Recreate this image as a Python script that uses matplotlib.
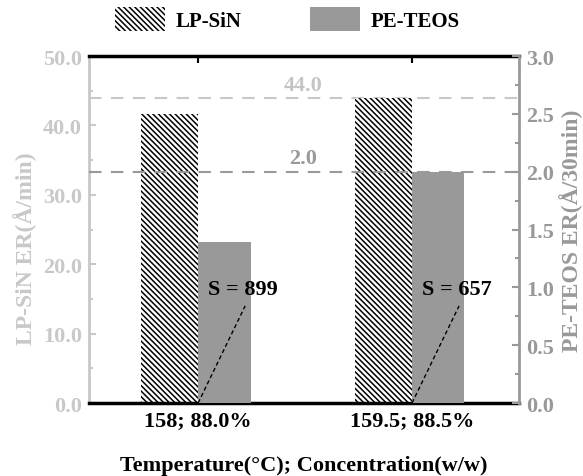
import matplotlib
matplotlib.use("Agg")
import matplotlib.pyplot as plt
from matplotlib.patches import Patch
import numpy as np

# data
categories = ["158; 88.0%", "159.5; 88.5%"]
lp_sin_er = [41.6, 44.0]        # Å/min, left axis
pe_teos_er = [1.39, 2.0]        # Å/30min, right axis
selectivity = [899, 657]
lp_ref = 44.0
pe_ref = 2.0

LIGHT = "#c8c8c8"
MID = "#999999"
HATCH = "\\\\\\\\\\\\"

plt.rcParams["font.family"] = "serif"
plt.rcParams["font.serif"] = ["Liberation Serif", "DejaVu Serif"]
plt.rcParams["font.weight"] = "bold"
plt.rcParams["hatch.linewidth"] = 1.1

fig = plt.figure(figsize=(5.83, 4.77), dpi=100)
ax = fig.add_axes([0.1527, 0.153, 0.7375, 0.7275])
ax2 = ax.twinx()

x = np.arange(len(categories))
w_lp, w_pe = 0.265, 0.245

ax.bar(x, lp_sin_er, width=-w_lp, align="edge", color="white",
       edgecolor="black", hatch=HATCH, linewidth=0, zorder=2)
ax2.bar(x, pe_teos_er, width=w_pe, align="edge", color=MID,
        linewidth=0, zorder=2)

# reference levels
ax.axhline(lp_ref, color=LIGHT, lw=1.5, dashes=(6, 4.5), zorder=1)
ax.text(0.49, lp_ref + 0.4, f"{lp_ref:.1f}", color="#c4c4c4", fontsize=16,
        ha="center", va="bottom", fontweight="bold")
ax2.axhline(pe_ref, color=MID, lw=1.5, dashes=(6, 4.5), zorder=1)
ax2.text(0.49, pe_ref + 0.03, f"{pe_ref:.1f}", color=MID, fontsize=16,
         ha="center", va="bottom", fontweight="bold")

# selectivity call-outs (drawn on the right axis so they sit above its bars)
for i, s in enumerate(selectivity):
    ax2.plot([x[i], x[i] + 0.22], [0, 0.84], color="black", lw=1,
             ls=(0, (3, 2)), zorder=3)
    ax2.text(x[i] + 0.21, 0.985, f"S = {s}", fontsize=16, fontweight="bold",
             ha="center", va="center", zorder=4)

ax.set_xlim(-0.51, 1.5)
ax.set_ylim(0, 50)
ax2.set_ylim(0, 3)
ax.set_xticks(x)
ax.set_xticklabels(categories, fontsize=16, fontweight="bold")
ax.tick_params(axis="x", bottom=False, top=True, direction="in", length=5,
               width=1.5, pad=5)

ax.set_yticks(np.arange(0, 51, 10))
ax.set_yticks(np.arange(5, 50, 10), minor=True)
ax.yaxis.set_major_formatter(matplotlib.ticker.FormatStrFormatter("%.1f"))
ax.tick_params(axis="y", which="both", direction="in", colors=LIGHT,
               labelsize=16, width=1.5, pad=5)
ax.tick_params(axis="y", which="major", length=5)
ax.tick_params(axis="y", which="minor", length=3)

ax2.set_yticks(np.arange(0, 3.01, 0.5))
ax2.set_yticks(np.arange(0.25, 3, 0.5), minor=True)
ax2.yaxis.set_major_formatter(matplotlib.ticker.FormatStrFormatter("%.1f"))
ax2.tick_params(axis="y", which="both", direction="in", colors=MID,
                labelsize=16, width=1.5, pad=5)
ax2.tick_params(axis="y", which="major", length=5)
ax2.tick_params(axis="y", which="minor", length=3)

for a in (ax, ax2):
    for lab in a.get_yticklabels():
        lab.set_fontweight("bold")

ax.spines["left"].set_color(LIGHT)
ax.spines["left"].set_linewidth(2)
ax.spines["right"].set_visible(False)
ax.spines["top"].set_linewidth(2.5)
ax.spines["bottom"].set_linewidth(2.5)
ax2.spines["right"].set_color(MID)
ax2.spines["right"].set_linewidth(2)
for side in ("left", "top", "bottom"):
    ax2.spines[side].set_visible(False)

ax.set_ylabel("LP-SiN ER(Å/min)", color=LIGHT, fontsize=17,
              fontweight="bold")
ax.yaxis.set_label_coords(-0.12, 0.447)
ax2.set_ylabel("PE-TEOS ER(Å/30min)", color=MID, fontsize=17,
               fontweight="bold", labelpad=4)
ax.set_xlabel("Temperature(°C); Concentration(w/w)", fontsize=16,
              fontweight="bold", labelpad=18)

handles = [
    Patch(facecolor="white", edgecolor="black", hatch=HATCH, linewidth=0),
    Patch(facecolor=MID, linewidth=0),
]
fig.legend(handles, ["LP-SiN", "PE-TEOS"], loc="center",
           bbox_to_anchor=(0.493, 0.958), ncol=2, frameon=False,
           prop={"size": 15, "weight": "bold"}, handlelength=2.4,
           handleheight=1.35, handletextpad=0.5, columnspacing=3.3)

fig.savefig("out.png", dpi=100)
